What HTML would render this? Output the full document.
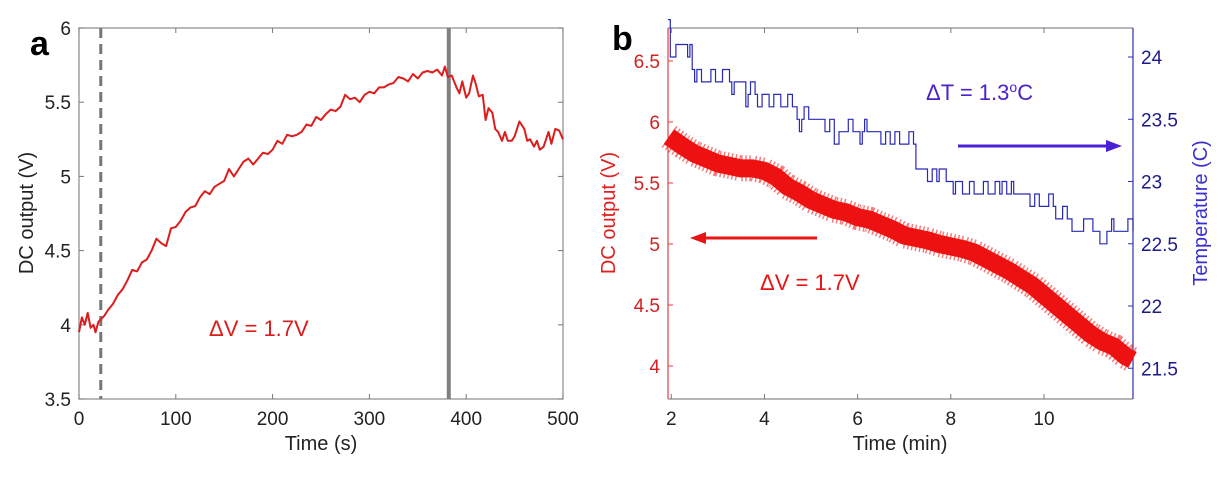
<!DOCTYPE html>
<html><head><meta charset="utf-8"><style>
html,body{margin:0;padding:0;background:#fff;}
svg{display:block;font-family:"Liberation Sans",sans-serif;}
</style></head><body>
<svg id="fig" width="1222" height="477" viewBox="0 0 1222 477"></svg>
<script>
// Panel a data
const aTimes=[0,3,6,9,12,15,17,20,23,26,30,35,40,45,50,55,60,65,70,75,80,85,90,95,100,105,110,115,120,125,130,135,140,145,150,155,160,165,170,175,180,185,190,195,200,205,210,215,220,225,230,235,240,245,250,255,260,265,270,275,280,285,290,295,300,305,310,315,320,325,330,335,340,345,350,355,360,365,370,375,378,381,385,390,393,396,400,403,407,410,413,417,420,423,427,430,433,437,440,443,447,450,455,460,463,466,470,473,476,480,485,488,492,496,500];
const aVolts=[3.95,4.05,4.0,4.08,3.98,4.0,3.95,4.02,4.04,4.06,4.1,4.14,4.2,4.24,4.3,4.37,4.36,4.42,4.44,4.5,4.58,4.55,4.53,4.65,4.66,4.7,4.76,4.79,4.8,4.86,4.9,4.88,4.93,4.95,4.97,5.05,5.0,5.05,5.1,5.12,5.08,5.12,5.16,5.15,5.18,5.24,5.22,5.28,5.27,5.28,5.3,5.35,5.34,5.4,5.38,5.42,5.45,5.44,5.47,5.55,5.52,5.53,5.5,5.55,5.57,5.56,5.6,5.6,5.62,5.63,5.67,5.66,5.64,5.69,5.66,5.7,5.71,5.7,5.72,5.68,5.74,5.67,5.68,5.6,5.56,5.64,5.53,5.56,5.68,5.62,5.54,5.55,5.38,5.46,5.43,5.32,5.3,5.24,5.3,5.24,5.24,5.27,5.37,5.32,5.24,5.25,5.2,5.24,5.18,5.2,5.3,5.22,5.32,5.31,5.25];
const aXTicks=[0,100,200,300,400,500];
const aYTicks=[3.5,4,4.5,5,5.5,6];
const aMarkers=[22.5,382];
// Panel b data
const bTimes=[1.95,2.25,2.5,2.75,3.0,3.25,3.5,3.75,4.0,4.25,4.5,4.75,5.0,5.25,5.5,5.75,6.0,6.25,6.5,6.75,7.0,7.25,7.5,7.75,8.0,8.25,8.5,8.75,9.0,9.25,9.5,9.75,10.0,10.25,10.5,10.75,11.0,11.25,11.5,11.75,11.9];
const bVolts=[5.88,5.8,5.74,5.7,5.66,5.64,5.62,5.62,5.6,5.55,5.47,5.42,5.36,5.32,5.28,5.26,5.22,5.2,5.16,5.12,5.07,5.05,5.03,5.0,4.98,4.96,4.93,4.88,4.83,4.78,4.72,4.66,4.58,4.5,4.42,4.34,4.26,4.2,4.16,4.08,4.05];
const tTimes=[1.93,1.98,2.1,2.35,2.4,2.45,2.5,2.55,2.65,2.85,2.95,3.1,3.25,3.3,3.35,3.6,3.65,3.7,3.8,3.85,3.95,4.1,4.2,4.35,4.5,4.6,4.7,4.75,4.8,4.85,4.95,5.3,5.4,5.5,5.6,5.8,5.9,6.05,6.1,6.15,6.2,6.5,6.6,6.7,6.8,6.9,7.1,7.2,7.25,7.5,7.6,7.7,7.75,7.9,8.05,8.1,8.25,8.4,8.5,8.7,8.8,8.95,9.05,9.1,9.2,9.3,9.35,9.7,9.8,9.9,10.1,10.2,10.25,10.4,10.5,10.6,10.85,11.05,11.2,11.35,11.45,11.5,11.8,11.91];
const tVals=[24.3,24.0,24.1,24.0,24.1,23.9,23.8,23.9,23.8,23.9,23.8,23.9,23.8,23.7,23.8,23.6,23.7,23.8,23.7,23.6,23.7,23.6,23.7,23.6,23.7,23.6,23.5,23.4,23.5,23.6,23.5,23.4,23.5,23.3,23.4,23.5,23.4,23.3,23.4,23.5,23.4,23.3,23.4,23.3,23.4,23.3,23.4,23.3,23.1,23.0,23.1,23.0,23.1,23.0,22.9,23.0,22.9,23.0,22.9,23.0,22.9,23.0,22.9,23.0,22.9,23.0,22.9,22.8,22.9,22.8,22.9,22.8,22.7,22.8,22.7,22.6,22.7,22.6,22.5,22.6,22.7,22.6,22.7,22.6];
const bXTicks=[2,4,6,8,10];
const bYTicks=[4,4.5,5,5.5,6,6.5];
const bTTicks=[21.5,22,22.5,23,23.5,24];

const NS="http://www.w3.org/2000/svg";
const svg=document.getElementById('fig');
function mk(tag,attrs,parent,text){const e=document.createElementNS(NS,tag);for(const k in attrs)e.setAttribute(k,attrs[k]);if(text!==undefined)e.textContent=text;(parent||svg).appendChild(e);return e;}

const aL=79,aR=563,aT=28,aB=399;
const ax=t=>aL+(t-0)/(500-0)*(aR-aL);
const ay=v=>aB-(v-3.5)/(6-3.5)*(aB-aT);
const ga=mk('g',{});


let e=mk('rect',{x:aL,y:aT,width:aR-aL,height:aB-aT,fill:'none',stroke:'#8a8a8a','stroke-width':1.2},ga);

aXTicks.forEach(t=>{
 mk('line',{x1:ax(t),x2:ax(t),y1:aB,y2:aB-5,stroke:'#777'},ga);mk('line',{x1:ax(t),x2:ax(t),y1:aT,y2:aT+5,stroke:'#777'},ga);
 const l=mk('text',{x:ax(t),y:aB+26,'text-anchor':'middle','font-size':19,fill:'#222'},ga,String(t));
 
});
aYTicks.forEach(v=>{
 mk('line',{x1:aL,x2:aL+5,y1:ay(v),y2:ay(v),stroke:'#777'},ga);mk('line',{x1:aR,x2:aR-5,y1:ay(v),y2:ay(v),stroke:'#777'},ga);
 const l=mk('text',{x:aL-8,y:ay(v)+7,'text-anchor':'end','font-size':19,fill:'#222'},ga,String(v));
 
});
e=mk('line',{x1:ax(aMarkers[0]),x2:ax(aMarkers[0]),y1:aT,y2:aB,stroke:'#777','stroke-width':3,'stroke-dasharray':'10,6'},ga);

e=mk('line',{x1:ax(aMarkers[1]),x2:ax(aMarkers[1]),y1:aT,y2:aB,stroke:'#808080','stroke-width':4},ga);

e=mk('path',{d:aTimes.map((t,i)=>(i?'L':'M')+ax(t).toFixed(1)+','+ay(aVolts[i]).toFixed(1)).join(''),fill:'none',stroke:'#dd1c1c','stroke-width':2,'stroke-linejoin':'round'},ga);

e=mk('text',{x:321,y:450,'text-anchor':'middle','font-size':20,fill:'#222'},ga,'Time (s)');

e=mk('text',{x:0,y:0,transform:'translate(33,213) rotate(-90)','text-anchor':'middle','font-size':20,fill:'#222'},ga,'DC output (V)');

e=mk('text',{x:209,y:336,'font-size':22,fill:'#dd1c1c'},ga,'ΔV = 1.7V');

e=mk('text',{x:30,y:55,'font-size':34,'font-weight':'bold',fill:'#000'},ga,'a');


const bL=668,bR=1133,bT=28,bB=399;
const bx=t=>bL+(t-1.93)/(11.91-1.93)*(bR-bL);
const by=v=>61+(6.5-v)*122;
const bt=v=>57+(24-v)*124.5;
const gb=mk('g',{});


mk('line',{x1:bL,x2:bR,y1:bT,y2:bT,stroke:'#8a8a8a','stroke-width':1.2},gb);
mk('line',{x1:bL,x2:bR,y1:bB,y2:bB,stroke:'#8a8a8a','stroke-width':1.2},gb);
e=mk('line',{x1:bL,x2:bL,y1:bT,y2:bB,stroke:'#e04040','stroke-width':1.2},gb);

e=mk('line',{x1:bR,x2:bR,y1:bT,y2:bB,stroke:'#3030b0','stroke-width':1.2},gb);

bXTicks.forEach(t=>{
 mk('line',{x1:bx(t),x2:bx(t),y1:bB,y2:bB-5,stroke:'#777'},gb);mk('line',{x1:bx(t),x2:bx(t),y1:bT,y2:bT+5,stroke:'#777'},gb);
 const l=mk('text',{x:bx(t),y:bB+26,'text-anchor':'middle','font-size':19,fill:'#222'},gb,String(t));
 
});
bYTicks.forEach(v=>{
 mk('line',{x1:bL,x2:bL+5,y1:by(v),y2:by(v),stroke:'#e04040'},gb);
 const l=mk('text',{x:bL-8,y:by(v)+7,'text-anchor':'end','font-size':19,fill:'#d42020'},gb,String(v));
 
});
bTTicks.forEach(v=>{
 mk('line',{x1:bR,x2:bR-5,y1:bt(v),y2:bt(v),stroke:'#3030b0'},gb);
 const l=mk('text',{x:bR+8,y:bt(v)+7,'font-size':19,fill:'#1a1a8a'},gb,String(v));
 
});
let td='M'+bx(tTimes[0]).toFixed(1)+','+bt(tVals[0]).toFixed(1);
for(let i=1;i<tTimes.length;i++){td+='H'+bx(tTimes[i]).toFixed(1)+'V'+bt(tVals[i]).toFixed(1);}
e=mk('path',{d:td,fill:'none',stroke:'#2a2ab8','stroke-width':1.2},gb);

const vd=bTimes.map((t,i)=>(i?'L':'M')+bx(t).toFixed(1)+','+by(bVolts[i]).toFixed(1)).join('');
e=mk('path',{d:vd,fill:'none',stroke:'#ee1111','stroke-width':26,'stroke-dasharray':'1.5,2.5','stroke-opacity':0.55},gb);

e=mk('path',{d:vd,fill:'none',stroke:'#ee1111','stroke-width':18,'stroke-linejoin':'round','stroke-linecap':'butt'},gb);

e=mk('g',{},gb);
mk('line',{x1:958,x2:1108,y1:146,y2:146,stroke:'#4a1fd8','stroke-width':3},e);
mk('polygon',{points:'1122,146 1106,140 1106,152',fill:'#4a1fd8'},e);
e=mk('g',{},gb);
mk('line',{x1:817,x2:703,y1:238,y2:238,stroke:'#e81515','stroke-width':3},e);
mk('polygon',{points:'690,238 706,232 706,244',fill:'#e81515'},e);
e=mk('text',{x:926,y:100,'font-size':22,fill:'#4a22c8'},gb);

e.innerHTML='ΔT = 1.3<tspan font-size="14" dy="-8">o</tspan><tspan dy="8">C</tspan>';
e=mk('text',{x:760,y:290,'font-size':22,fill:'#e81515'},gb,'ΔV = 1.7V');

e=mk('text',{x:900,y:450,'text-anchor':'middle','font-size':20,fill:'#222'},gb,'Time (min)');

e=mk('text',{x:0,y:0,transform:'translate(615,213) rotate(-90)','text-anchor':'middle','font-size':20,fill:'#e02020'},gb,'DC output (V)');

e=mk('text',{x:0,y:0,transform:'translate(1207,213) rotate(-90)','text-anchor':'middle','font-size':20,fill:'#3a2fd0'},gb,'Temperature (C)');

e=mk('text',{x:612,y:50,'font-size':34,'font-weight':'bold',fill:'#000'},gb,'b');

</script>
</body></html>
